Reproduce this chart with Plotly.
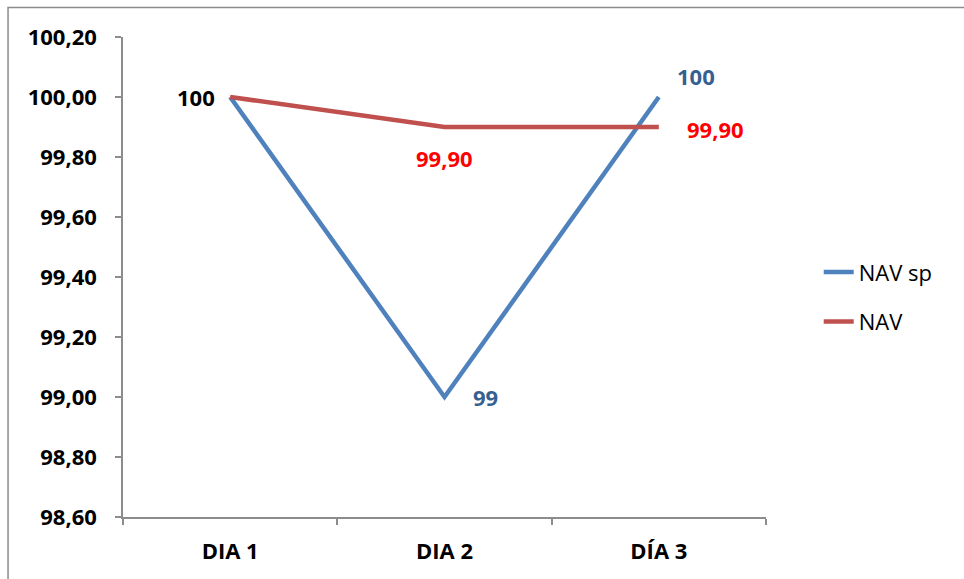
import plotly.graph_objects as go

categories = ["DIA 1", "DIA 2", "DÍA 3"]
nav_sp = [100, 99, 100]
nav = [100, 99.9, 99.9]
y_ticks = [98.6, 98.8, 99.0, 99.2, 99.4, 99.6, 99.8, 100.0, 100.2]
y_tick_labels = ["98,60", "98,80", "99,00", "99,20", "99,40", "99,60", "99,80", "100,00", "100,20"]

nav_sp_labels = ["", "99", "100"]
nav_labels = ["100", "99,90", "99,90"]

FONT = "Open Sans"
BLUE = "#4F81BD"
RED = "#C0504D"
FS = 22

fig = go.Figure()
fig.add_trace(go.Scatter(x=categories, y=nav_sp, mode="lines", name="NAV sp",
                         line=dict(color=BLUE, width=4.5), legendgroup="a"))
fig.add_trace(go.Scatter(x=categories, y=nav, mode="lines", name="NAV",
                         line=dict(color=RED, width=4.5), legendgroup="b"))

sp_shift = [(0, 0), (41, 0), (37, 21)]
sp_color = ["#376092", "#376092", "#376092"]
nav_shift = [(-34, 0), (0, -31), (57, -2)]
nav_color = ["#000000", "#FF0000", "#FF0000"]

for i, t in enumerate(nav_sp_labels):
    if t:
        fig.add_annotation(x=categories[i], y=nav_sp[i], text=t, showarrow=False,
                           xshift=sp_shift[i][0], yshift=sp_shift[i][1],
                           font=dict(family=FONT, size=FS, color=sp_color[i], weight="bold"))
for i, t in enumerate(nav_labels):
    if t:
        fig.add_annotation(x=categories[i], y=nav[i], text=t, showarrow=False,
                           xshift=nav_shift[i][0], yshift=nav_shift[i][1],
                           font=dict(family=FONT, size=FS, color=nav_color[i], weight="bold"))

# outer chart border
fig.add_shape(type="rect", xref="paper", yref="paper",
              x0=-0.1788, x1=1.4, y0=-0.2, y1=1.0615,
              line=dict(color="#8C8C8C", width=1.5), fillcolor="rgba(0,0,0,0)", layer="below")

fig.update_layout(
    width=964, height=579,
    margin=dict(l=123, r=198, t=37, b=62),
    paper_bgcolor="white", plot_bgcolor="white",
    font=dict(family=FONT, size=FS, color="black"),
    legend=dict(x=1.082, y=0.458, xanchor="left", yanchor="middle",
                font=dict(family=FONT, size=FS, color="black"),
                tracegroupgap=18, bgcolor="rgba(0,0,0,0)"),
    xaxis=dict(
        type="category", categoryorder="array", categoryarray=categories,
        range=[-0.5, 2.5], tickson="boundaries",
        showgrid=False, zeroline=False,
        showline=True, linecolor="#8C8C8C", linewidth=1.5,
        ticks="outside", ticklen=6, tickcolor="#8C8C8C", tickwidth=1.5,
        tickfont=dict(family=FONT, size=FS, color="black", weight="bold"),
        ticklabelstandoff=14,
    ),
    yaxis=dict(
        tickmode="array", tickvals=y_ticks, ticktext=y_tick_labels,
        range=[98.6, 100.2],
        showgrid=False, zeroline=False,
        showline=True, linecolor="#8C8C8C", linewidth=1.5,
        ticks="outside", ticklen=6, tickcolor="#8C8C8C", tickwidth=1.5,
        tickfont=dict(family=FONT, size=FS, color="black", weight="bold"),
        ticklabelstandoff=14,
    ),
)

fig.write_html("out.html")
